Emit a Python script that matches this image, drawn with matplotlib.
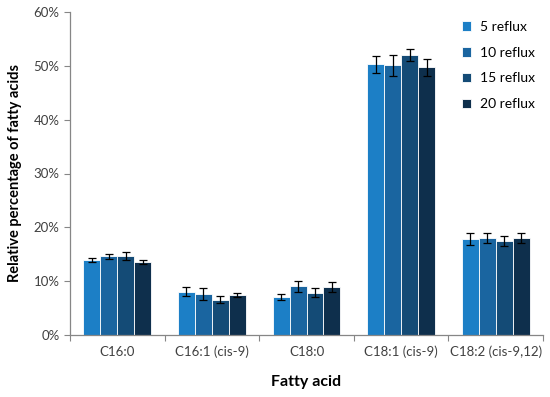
import matplotlib.pyplot as plt
import numpy as np
from matplotlib.ticker import FuncFormatter

plt.rcParams['font.family'] = ['Lato', 'DejaVu Sans']

categories = ['C16:0', 'C16:1 (cis-9)', 'C18:0', 'C18:1 (cis-9)', 'C18:2 (cis-9,12)']
series = ['5 reflux', '10 reflux', '15 reflux', '20 reflux']

reflux_5 = [13.9, 8.0, 7.0, 50.3, 17.8]
reflux_10 = [14.6, 7.6, 9.0, 50.1, 18.0]
reflux_15 = [14.6, 6.5, 7.8, 52.1, 17.5]
reflux_20 = [13.5, 7.3, 8.9, 49.8, 18.0]

err_5 = [0.3, 0.87, 0.6, 1.6, 1.05]
err_10 = [0.5, 1.05, 1.05, 2.0, 0.87]
err_15 = [0.7, 0.68, 0.87, 1.1, 0.9]
err_20 = [0.37, 0.37, 0.87, 1.6, 0.96]

values = [reflux_5, reflux_10, reflux_15, reflux_20]
errors = [err_5, err_10, err_15, err_20]
colors = ['#1c7fc6', '#1a65a0', '#144b76', '#0e2f4c']

fig = plt.figure(figsize=(5.5, 3.97), dpi=100)
ax = fig.add_axes([70/550, 1 - 334.7/397, 473/550, (334.7 - 12.3)/397])

x = np.arange(len(categories))
w = 0.179
for i, (vals, errs) in enumerate(zip(values, errors)):
    pos = x + (i - 1.5) * w
    ax.bar(pos, vals, width=w, color=colors[i], edgecolor='white', linewidth=0.6,
           label=series[i], zorder=2)
    ax.errorbar(pos, vals, yerr=errs, fmt='none', ecolor='black', elinewidth=0.9,
                capsize=2.8, capthick=0.9, zorder=3)

ax.set_xlim(-0.5, len(categories) - 0.5)
ax.set_ylim(0, 60)
ax.set_yticks(np.arange(0, 61, 10))
ax.yaxis.set_major_formatter(FuncFormatter(lambda v, p: f'{v:.0f}%'))

ax.set_xticks(x)
ax.set_xticklabels(categories)
ax.set_xticks(np.arange(-0.5, len(categories), 1), minor=True)
ax.tick_params(axis='x', which='major', length=0, pad=8)
ax.tick_params(axis='x', which='minor', length=4, color='#868686', width=0.8)
ax.tick_params(axis='y', length=4, color='#868686', width=0.8)
ax.tick_params(labelsize=9.5, labelcolor='#404040')

for s in ['top', 'right']:
    ax.spines[s].set_visible(False)
for s in ['left', 'bottom']:
    ax.spines[s].set_color('#868686')
    ax.spines[s].set_linewidth(0.9)

ax.set_xlabel('Fatty acid', fontsize=11.5, fontweight='bold', labelpad=12)
ax.set_ylabel('Relative percentage of fatty acids', fontsize=10.5, fontweight='bold', labelpad=8)

ax.legend(loc='upper right', bbox_to_anchor=(1.0, 1.0), frameon=False, fontsize=10,
          handlelength=0.7, handleheight=0.7, handletextpad=0.6, labelspacing=1.0,
          borderaxespad=0.2)

fig.savefig('out.png', dpi=100)
